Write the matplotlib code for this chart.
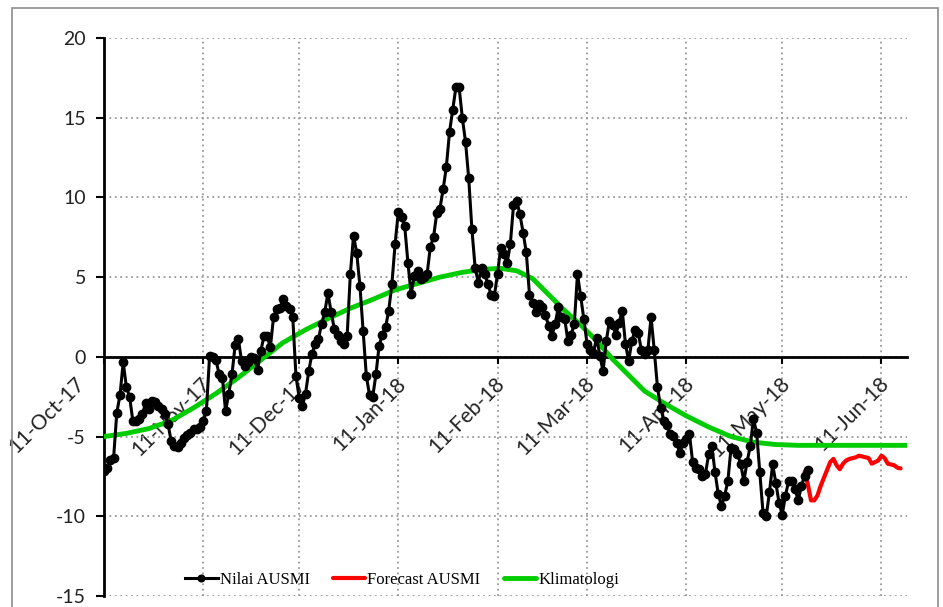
import numpy as np
import pandas as pd
import matplotlib
matplotlib.use('Agg')
import matplotlib.pyplot as plt
import matplotlib.dates as mdates
import matplotlib.transforms as mtransforms
from matplotlib.patches import Rectangle

# daily AUSMI index values starting 11-Oct-2017
ausmi_start = '2017-10-11'
ausmi = [
    -7.15, -6.95, -6.45, -6.35, -3.5, -2.4, -0.35, -1.9, -2.5, -4.0,
    -4.05, -3.9, -3.6, -2.9, -3.3, -2.75, -2.85, -3.1, -3.3, -3.6,
    -4.2, -5.3, -5.6, -5.65, -5.4, -5.1, -4.9, -4.75, -4.5, -4.55,
    -4.4, -4.0, -3.4, 0.05, 0.0, -0.2, -1.1, -1.3, -3.4, -2.3,
    -1.1, 0.75, 1.1, -0.25, -0.55, -0.35, 0.0, -0.1, -0.8, 0.35,
    1.3, 1.3, 0.6, 2.5, 3.0, 3.05, 3.6, 3.2, 3.0, 2.5,
    -1.2, -2.55, -3.1, -2.3, -0.9, 0.2, 0.8, 1.1, 2.05, 2.8,
    4.0, 2.8, 1.75, 1.4, 1.0, 0.8, 1.3, 5.2, 7.6, 6.5,
    4.45, 1.6, -1.2, -2.4, -2.5, -1.1, 0.7, 1.4, 1.85, 2.9,
    4.6, 7.1, 9.1, 8.75, 8.2, 5.9, 3.95, 5.1, 5.4, 4.9,
    5.0, 5.2, 6.9, 7.5, 9.0, 9.3, 10.5, 11.9, 14.1, 15.5,
    16.9, 16.9, 15.0, 13.5, 11.2, 8.0, 5.6, 4.65, 5.6, 5.2,
    4.55, 3.9, 3.8, 5.2, 6.85, 6.45, 5.9, 7.05, 9.5, 9.8,
    8.95, 7.8, 6.55, 3.9, 3.4, 2.8, 3.3, 3.1, 2.6, 1.95,
    1.3, 2.05, 3.1, 2.5, 2.4, 1.0, 1.4, 2.05, 5.2, 3.8,
    2.35, 0.8, 0.4, 0.27, 1.2, 0.06, -0.9, 1.0, 2.25, 2.0,
    1.4, 2.15, 2.9, 0.8, -0.25, 1.0, 1.7, 1.5, 0.4, 0.17,
    0.4, 2.5, 0.4, -1.9, -3.2, -4.0, -4.3, -4.85, -4.95, -5.4,
    -6.0, -5.4, -5.15, -4.85, -6.6, -6.95, -7.05, -7.45, -7.35, -6.1,
    -5.6, -7.25, -8.6, -9.35, -8.7, -7.8, -5.7, -5.8, -6.1, -6.7,
    -7.8, -6.6, -5.6, -3.9, -4.75, -7.25, -9.8, -10.0, -8.5, -6.75,
    -7.9, -9.15, -9.9, -8.7, -7.8, -7.8, -8.3, -9.0, -8.1, -7.45,
    -7.1,
]

# daily forecast values starting 18-May-2018
forecast_start = '2018-05-18'
forecast = [
    -7.2, -8.0, -9.0, -9.0, -8.7, -8.1, -7.6, -7.1, -6.6, -6.4,
    -6.8, -7.05, -6.7, -6.5, -6.4, -6.35, -6.3, -6.2, -6.25, -6.3,
    -6.35, -6.7, -6.6, -6.5, -6.2, -6.35, -6.7, -6.75, -6.8, -6.95,
    -7.0,
]

# climatology
klim_dates = [
    '2017-10-11', '2017-10-18', '2017-10-25', '2017-11-01', '2017-11-08',
    '2017-11-15', '2017-11-22', '2017-11-29', '2017-12-06', '2017-12-13',
    '2017-12-20', '2017-12-27', '2018-01-03', '2018-01-10', '2018-01-17',
    '2018-01-24', '2018-01-31', '2018-02-07', '2018-02-12', '2018-02-17',
    '2018-02-22', '2018-02-27', '2018-03-04', '2018-03-09', '2018-03-14',
    '2018-03-19', '2018-03-24', '2018-03-29', '2018-04-04', '2018-04-11',
    '2018-04-18', '2018-04-25', '2018-05-02', '2018-05-09', '2018-05-16',
    '2018-06-19',
]
klim = [
    -5.0, -4.8, -4.5, -4.0, -3.2,
    -2.3, -1.3, -0.2, 0.9, 1.7,
    2.4, 3.05, 3.6, 4.2, 4.6,
    5.0, 5.3, 5.5, 5.55, 5.4,
    4.9, 3.9, 2.9, 2.0, 1.0,
    -0.15, -1.15, -2.15, -2.9, -3.7,
    -4.4, -5.0, -5.35, -5.5, -5.55,
    -5.55,
]

ausmi_x = pd.date_range(ausmi_start, periods=len(ausmi), freq='D')
forecast_x = pd.date_range(forecast_start, periods=len(forecast), freq='D')
klim_x = pd.to_datetime(klim_dates)

W, H = 943, 607
fig = plt.figure(figsize=(W / 100, H / 100), dpi=100)
ax = fig.add_axes([104 / W, 1 - 596 / H, (907 - 104) / W, (596 - 38) / H])

ax.plot(ausmi_x, ausmi, color='black', lw=2.2, marker='o', ms=6,
        label='Nilai AUSMI', zorder=4)
ax.plot(forecast_x, forecast, color='#ff0000', lw=3, label='Forecast AUSMI',
        zorder=3, solid_capstyle='round')
ax.plot(klim_x, klim, color='#00cc00', lw=3.5, label='Klimatologi',
        zorder=3, solid_capstyle='round')

ax.set_ylim(-15, 20)
ax.set_yticks(np.arange(-15, 21, 5))
ax.set_yticklabels([str(v) for v in range(-15, 21, 5)])
ax.set_xlim(pd.Timestamp('2017-10-11'), pd.Timestamp('2018-06-19'))
ax.xaxis.set_major_locator(mdates.MonthLocator(bymonthday=11))
ax.xaxis.set_major_formatter(mdates.DateFormatter('%d-%b-%y'))

ax.grid(True, color='#999999', ls=(0, (1, 2)), lw=1.3)
ax.set_axisbelow(True)

for s in ['top', 'right']:
    ax.spines[s].set_visible(False)
ax.spines['left'].set_linewidth(2)
ax.spines['bottom'].set_position(('data', 0))
ax.spines['bottom'].set_linewidth(2)
ax.spines['bottom'].set_zorder(2)

ax.tick_params(axis='y', direction='out', length=6, width=1.5, pad=7,
               labelsize=14, labelcolor='#222222')
ax.tick_params(axis='x', direction='out', length=5, width=1.5, pad=7,
               labelsize=15, labelcolor='#222222')
fig.canvas.draw()
for i, lab in enumerate(ax.get_xticklabels()):
    lab.set_rotation(45)
    lab.set_ha('right')
    lab.set_va('top')
    lab.set_rotation_mode('anchor')
    lab.set_family(['Lato', 'DejaVu Sans'])
    dx = -0.3 if i == 0 else -0.03
    lab.set_transform(lab.get_transform() +
                      mtransforms.ScaledTranslation(dx, 0, fig.dpi_scale_trans))
for lab in ax.get_yticklabels():
    lab.set_family(['Lato', 'DejaVu Sans'])

leg = ax.legend(loc='center left', bbox_to_anchor=(185 / W, 1 - 580 / H),
                bbox_transform=fig.transFigure, ncol=3, frameon=False,
                prop={'family': 'Liberation Serif', 'size': 12},
                handlelength=1.95, handletextpad=0.12, columnspacing=1.4,
                borderpad=0, borderaxespad=0, numpoints=1, markerscale=0.8)

fig.patches.append(Rectangle((12 / W, -0.1), (938 - 12) / W, 1.1 - 8 / H,
                             transform=fig.transFigure, fill=False,
                             edgecolor='#8c8c8c', lw=1.2))

fig.savefig('out.png', dpi=100)
